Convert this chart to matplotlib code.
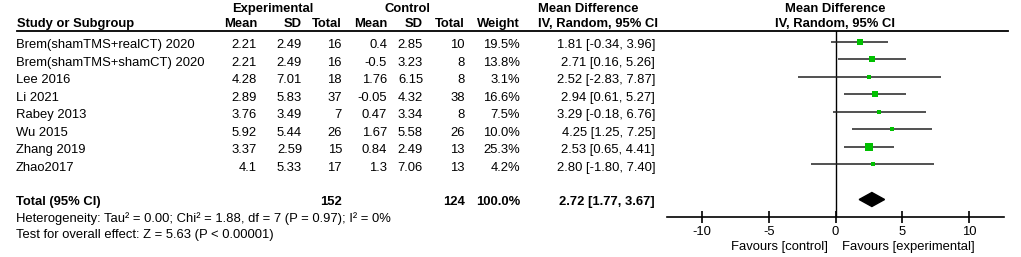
import matplotlib
matplotlib.use("Agg")
import matplotlib.pyplot as plt
from matplotlib.patches import Polygon

plt.rcParams['font.family'] = ['Liberation Sans', 'DejaVu Sans']

studies = ["Brem(shamTMS+realCT) 2020", "Brem(shamTMS+shamCT) 2020", "Lee 2016", "Li 2021",
           "Rabey 2013", "Wu 2015", "Zhang 2019", "Zhao2017"]
exp_mean = ["2.21", "2.21", "4.28", "2.89", "3.76", "5.92", "3.37", "4.1"]
exp_sd = ["2.49", "2.49", "7.01", "5.83", "3.49", "5.44", "2.59", "5.33"]
exp_n = ["16", "16", "18", "37", "7", "26", "15", "17"]
ctl_mean = ["0.4", "-0.5", "1.76", "-0.05", "0.47", "1.67", "0.84", "1.3"]
ctl_sd = ["2.85", "3.23", "6.15", "4.32", "3.34", "5.58", "2.49", "7.06"]
ctl_n = ["10", "8", "8", "38", "8", "26", "13", "13"]
weight = [19.5, 13.8, 3.1, 16.6, 7.5, 10.0, 25.3, 4.2]
md = [1.81, 2.71, 2.52, 2.94, 3.29, 4.25, 2.53, 2.80]
lo = [-0.34, 0.16, -2.83, 0.61, -0.18, 1.25, 0.65, -1.80]
hi = [3.96, 5.26, 7.87, 5.27, 6.76, 7.25, 4.41, 7.40]
total_md, total_lo, total_hi = 2.72, 1.77, 3.67
total_exp, total_ctl = "152", "124"
het_text = "Heterogeneity: Tau² = 0.00; Chi² = 1.88, df = 7 (P = 0.97); I² = 0%"
test_text = "Test for overall effect: Z = 5.63 (P < 0.00001)"
ticks = [-10, -5, 0, 5, 10]

W, H = 1021, 257
fig = plt.figure(figsize=(W / 100, H / 100), dpi=100)
# text layer in pixel coords
tx = fig.add_axes([0, 0, 1, 1])
tx.set_xlim(0, W)
tx.set_ylim(H, 0)
tx.axis("off")

fs = 9.4
row_y = lambda i: 42 + 17.5 * i   # marker rows (pixels)
txt_off = 3.3                     # text sits a bit lower than the marker
total_y = row_y(9)
left = 16

# headers
hy0, hy = 9, 24
tx.text(273, hy0, "Experimental", ha="center", va="center", fontsize=fs, fontweight="bold")
tx.text(407, hy0, "Control", ha="center", va="center", fontsize=fs, fontweight="bold")
tx.text(538, hy0, "Mean Difference", ha="left", va="center", fontsize=fs, fontweight="bold")
tx.text(835, hy0, "Mean Difference", ha="center", va="center", fontsize=fs, fontweight="bold")
tx.text(left + 1, hy, "Study or Subgroup", ha="left", va="center", fontsize=fs, fontweight="bold")
col_x = [257, 302, 342, 387, 423, 465, 520]
for x, lab in zip(col_x, ["Mean", "SD", "Total", "Mean", "SD", "Total", "Weight"]):
    tx.text(x, hy, lab, ha="right", va="center", fontsize=fs, fontweight="bold")
tx.text(538, hy, "IV, Random, 95% CI", ha="left", va="center", fontsize=fs, fontweight="bold")
tx.text(835, hy, "IV, Random, 95% CI", ha="center", va="center", fontsize=fs, fontweight="bold")
tx.plot([17, 1008], [30.5, 30.5], color="black", lw=1.3)

# study rows
for i, s in enumerate(studies):
    y = row_y(i) + txt_off
    tx.text(left, y, s, ha="left", va="center", fontsize=fs)
    vals = [exp_mean[i], exp_sd[i], exp_n[i], ctl_mean[i], ctl_sd[i], ctl_n[i], f"{weight[i]:.1f}%"]
    for x, v in zip(col_x, vals):
        tx.text(x, y, v, ha="right", va="center", fontsize=fs)
    tx.text(655, y, f"{md[i]:.2f} [{lo[i]:.2f}, {hi[i]:.2f}]", ha="right", va="center", fontsize=fs)

# total row
ty = total_y + 2.5
tx.text(left, ty, "Total (95% CI)", ha="left", va="center", fontsize=fs, fontweight="bold")
tx.text(col_x[2], ty, total_exp, ha="right", va="center", fontsize=fs, fontweight="bold")
tx.text(col_x[5], ty, total_ctl, ha="right", va="center", fontsize=fs, fontweight="bold")
tx.text(col_x[6], ty, "100.0%", ha="right", va="center", fontsize=fs, fontweight="bold")
tx.text(655, ty, f"{total_md:.2f} [{total_lo:.2f}, {total_hi:.2f}]", ha="right", va="center",
        fontsize=fs, fontweight="bold")
tx.text(left, 218.5, het_text, ha="left", va="center", fontsize=fs)
tx.text(left, 235, test_text, ha="left", va="center", fontsize=fs)

# forest plot
x0, x1, ytop, ybot = 667, 1004, 30.5, 217.3
ax = fig.add_axes([x0 / W, 1 - ybot / H, (x1 - x0) / W, (ybot - ytop) / H])
ax.set_xlim(-12.6, 12.6)
ax.set_ylim((ybot - 42) / 17.5, (ytop - 42) / 17.5)
ax.patch.set_alpha(0)
for sp in ["top", "right", "left"]:
    ax.spines[sp].set_visible(False)
ax.spines["bottom"].set_linewidth(1.2)
ax.set_yticks([])
ax.set_xticks(ticks)
ax.set_xticklabels([str(t) for t in ticks], fontsize=fs)
ax.tick_params(axis="x", direction="inout", length=8, width=1.2, pad=2.5)
ax.axvline(0, color="black", lw=1)

for i in range(len(studies)):
    ax.plot([lo[i], hi[i]], [i, i], color="#222222", lw=1.1, solid_capstyle="butt")
    side = 1.2 * weight[i] ** 0.5 + 1   # box side in px, grows with weight
    ax.plot(md[i], i, marker="s", ms=side / 1.389, color="#00c000", mec="#00c000", mew=0)

ax.add_patch(Polygon([[total_lo, 9], [total_md, 9 - 0.4], [total_hi, 9], [total_md, 9 + 0.4]],
                     closed=True, color="black"))

tx.text(828, 247, "Favours [control]", ha="right", va="center", fontsize=fs)
tx.text(842, 247, "Favours [experimental]", ha="left", va="center", fontsize=fs)

fig.savefig("out.png", dpi=100)
